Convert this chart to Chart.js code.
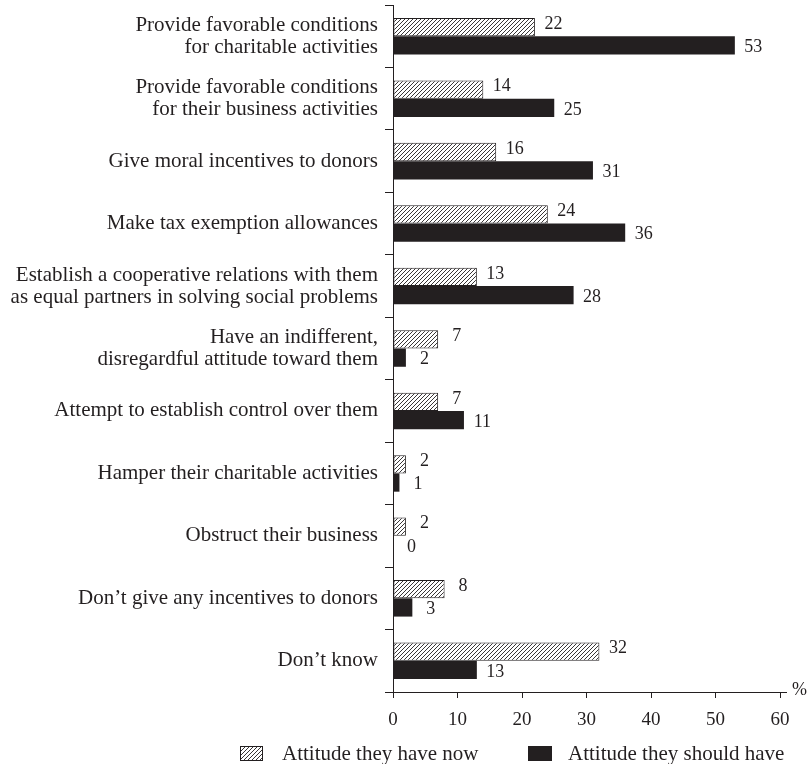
<!DOCTYPE html>
<html>
<head>
<meta charset="utf-8">
<script src="https://cdn.jsdelivr.net/npm/chart.js@4/dist/chart.umd.min.js"></script>
<style>
  html, body { margin: 0; padding: 0; background: #fff; }
  #wrap { width: 812px; height: 764px; }
</style>
</head>
<body>
<div id="wrap"><canvas id="chart" width="812" height="764"></canvas></div>
<script>
// data
const categories = [
  ['Provide favorable conditions', 'for charitable activities'],
  ['Provide favorable conditions', 'for their business activities'],
  'Give moral incentives to donors',
  'Make tax exemption allowances',
  ['Establish a cooperative relations with them', 'as equal partners in solving social problems'],
  ['Have an indifferent,', 'disregardful attitude toward them'],
  'Attempt to establish control over them',
  'Hamper their charitable activities',
  'Obstruct their business',
  'Don\u2019t give any incentives to donors',
  'Don\u2019t know'
];
const seriesNames = ['Attitude they have now', 'Attitude they should have'];
const haveNow = [22, 14, 16, 24, 13, 7, 7, 2, 2, 8, 32];
const shouldHave = [53, 25, 31, 36, 28, 2, 11, 1, 0, 3, 13];
const xTicks = [0, 10, 20, 30, 40, 50, 60];

const INK = '#231f20';
const FONT = "'Liberation Serif', 'Times New Roman', serif";

// diagonal hatch
function makeHatch() {
  const c = document.createElement('canvas');
  c.width = 4; c.height = 4;
  const g = c.getContext('2d');
  g.fillStyle = '#fff';
  g.fillRect(0, 0, 4, 4);
  g.strokeStyle = INK;
  g.lineWidth = 0.9;
  g.beginPath();
  g.moveTo(-1, 5); g.lineTo(5, -1);
  g.moveTo(-3, 3); g.lineTo(3, -3);
  g.moveTo(1, 7); g.lineTo(7, 1);
  g.stroke();
  return c;
}
const ctx = document.getElementById('chart').getContext('2d');
const hatch = ctx.createPattern(makeHatch(), 'repeat');

const extras = {
  id: 'extras',
  afterDatasetsDraw(chart) {
    const c = chart.ctx;
    const area = chart.chartArea;
    c.save();
    c.fillStyle = INK;
    c.font = '18px ' + FONT;
    c.textAlign = 'center';
    c.textBaseline = 'middle';
    chart.data.datasets.forEach((ds, di) => {
      const meta = chart.getDatasetMeta(di);
      meta.data.forEach((bar, i) => {
        const dy = di === 0 ? -3 : 2;
        c.fillText(String(ds.data[i]), bar.x + 18.5, bar.y + dy);
      });
    });
    // axis extension and unit
    c.strokeStyle = INK;
    c.lineWidth = 1;
    c.beginPath();
    c.moveTo(area.right, area.bottom + 0.5);
    c.lineTo(area.right + 7, area.bottom + 0.5);
    c.stroke();
    c.font = '18px ' + FONT;
    c.textAlign = 'left';
    c.textBaseline = 'alphabetic';
    c.fillText('%', area.right + 12, area.bottom + 3);

    // legend
    const ly = 746;
    c.font = '21px ' + FONT;
    c.textBaseline = 'middle';
    c.fillStyle = hatch;
    c.fillRect(240, ly, 23, 15);
    c.strokeStyle = INK;
    c.strokeRect(240.5, ly + 0.5, 22, 14);
    c.fillStyle = INK;
    c.fillText(seriesNames[0], 282, ly + 8);
    c.fillRect(528, ly, 24, 15);
    c.fillText(seriesNames[1], 568, ly + 8);
    c.restore();
  }
};

new Chart(ctx, {
  type: 'bar',
  data: {
    labels: categories,
    datasets: [
      {
        label: seriesNames[0],
        data: haveNow,
        backgroundColor: hatch,
        borderColor: INK,
        borderWidth: 1,
        borderSkipped: false,
        categoryPercentage: 0.585,
        barPercentage: 1.0
      },
      {
        label: seriesNames[1],
        data: shouldHave,
        backgroundColor: INK,
        borderColor: INK,
        borderWidth: 0,
        categoryPercentage: 0.585,
        barPercentage: 1.0
      }
    ]
  },
  options: {
    indexAxis: 'y',
    responsive: false,
    animation: false,
    layout: { padding: { top: 5, right: 32, left: 0, bottom: 0 } },
    plugins: {
      legend: { display: false },
      tooltip: { enabled: false }
    },
    scales: {
      x: {
        min: 0,
        max: 60,
        afterBuildTicks: s => { s.ticks = xTicks.map(v => ({ value: v })); },
        afterFit: s => { s.height = 764 - 692; },
        border: { display: true, color: INK, width: 1 },
        grid: { drawOnChartArea: false, color: INK, tickLength: 6, lineWidth: 1 },
        ticks: { color: INK, padding: 11, font: { family: FONT, size: 19 } }
      },
      y: {
        afterFit: s => { s.width = 393; s.paddingTop = 0; s.paddingBottom = 0; },
        border: { display: true, color: INK, width: 1 },
        grid: { drawOnChartArea: false, color: INK, tickLength: 8, offset: true, lineWidth: 1 },
        ticks: {
          color: INK,
          padding: 7,
          font: { family: FONT, size: 21, lineHeight: 1.05 }
        }
      }
    }
  },
  plugins: [extras]
});
</script>
</body>
</html>
